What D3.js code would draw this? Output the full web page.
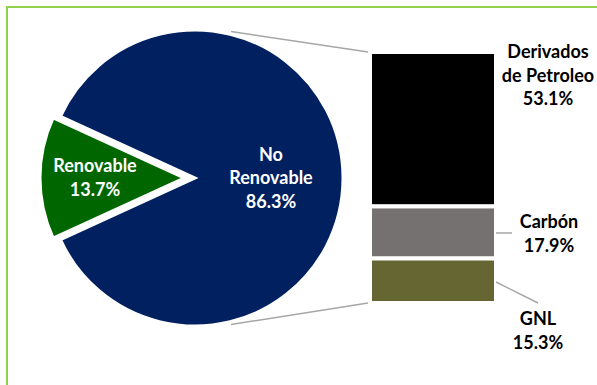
<!DOCTYPE html>
<html>
<head>
<meta charset="utf-8">
<script src="https://cdn.jsdelivr.net/npm/d3@7"></script>
<style>
  body { margin: 0; background: #fff; }
  svg { display: block; }
  text { font-family: Lato, 'Noto Sans', sans-serif; font-weight: 700; }
</style>
</head>
<body>
<div id="chart"></div>
<script>
// pie: main split
var pieCategories = ['Renovable', 'No Renovable']
var pieValues = [13.7, 86.3]
// bar: breakdown of "No Renovable"
var barCategories = ['Derivados de Petroleo', 'Carbón', 'GNL']
var barValues = [53.1, 17.9, 15.3]
var barLabelNames = [['Derivados', 'de Petroleo'], ['Carbón'], ['GNL']]
var pieLabelNames = [['Renovable'], ['No', 'Renovable']]

var width = 597
var height = 385

var svg = d3.select('#chart')
  .append('svg')
  .attr('width', width)
  .attr('height', height)

// green frame, only top and left edges fall inside the picture
svg.append('rect')
  .attr('x', 7)
  .attr('y', 7)
  .attr('width', 620)
  .attr('height', 420)
  .attr('fill', 'none')
  .attr('stroke', '#92d050')
  .attr('stroke-width', 2)

var pieColors = ['#006600', '#002060']
var barColors = ['#000000', '#767171', '#666633']

var cx = 195, cy = 178, radius = 148
var greenRadius = 144
var explode = 11

// green slice centred on the left side
var greenSpan = pieValues[0] / d3.sum(pieValues) * 2 * Math.PI
var start = 1.5 * Math.PI - greenSpan / 2
var pie = d3.pie().sort(null).value(function (d) { return d }).startAngle(start).endAngle(start + 2 * Math.PI)
var arcs = pie(pieValues)

var gPie = svg.append('g')

arcs.forEach(function (d, i) {
  var mid = (d.startAngle + d.endAngle) / 2
  var off = i === 0 ? explode : 0
  var r = i === 0 ? greenRadius : radius
  var ox = cx + off * Math.sin(mid)
  var oy = cy - off * Math.cos(mid)
  var arc = d3.arc().innerRadius(0).outerRadius(r)
  gPie.append('path')
    .attr('transform', 'translate(' + ox + ',' + oy + ')')
    .attr('d', arc(d))
    .attr('fill', pieColors[i])
    .attr('stroke', '#fff')
    .attr('stroke-width', 3)
    .attr('stroke-linejoin', 'miter')
})

// labels inside pie
var labelRadius = [89, 76]
arcs.forEach(function (d, i) {
  var mid = (d.startAngle + d.endAngle) / 2
  var off = i === 0 ? explode : 0
  var lx = cx + (off + labelRadius[i]) * Math.sin(mid)
  var ly = cy - (off + labelRadius[i]) * Math.cos(mid)
  var lines = pieLabelNames[i].concat([pieValues[i].toFixed(1) + '%'])
  var lh = 23.5
  var t = svg.append('text')
    .attr('text-anchor', 'middle')
    .attr('fill', '#fff')
    .style('font-size', '18px')
  lines.forEach(function (s, j) {
    t.append('tspan')
      .attr('x', lx)
      .attr('y', ly + (j - (lines.length - 1) / 2) * lh + 6)
      .text(s)
  })
})

// stacked bar
var barTotal = d3.sum(barValues)
var x = d3.scaleBand().domain([pieCategories[1]]).range([370, 496])
var y = d3.scaleLinear().domain([0, barTotal]).range([303, 52])

var stackData = []
var acc = 0
for (var i = barValues.length - 1; i >= 0; i--) {
  stackData[i] = { key: barCategories[i], y0: acc, y1: acc + barValues[i] }
  acc += barValues[i]
}

svg.selectAll('.seg')
  .data(stackData)
  .enter()
  .append('rect')
  .attr('class', 'seg')
  .attr('x', x(pieCategories[1]))
  .attr('width', x.bandwidth())
  .attr('y', function (d) { return y(d.y1) })
  .attr('height', function (d) { return y(d.y0) - y(d.y1) })
  .attr('fill', function (d, i) { return barColors[i] })
  .attr('stroke', '#fff')
  .attr('stroke-width', 4)

// series lines from pie to bar
var lineAngles = [14 * Math.PI / 180, 166 * Math.PI / 180]
var barEnds = [y(barTotal), y(0)]
var lineColor = '#a6a6a6'
lineAngles.forEach(function (a, i) {
  svg.append('line')
    .attr('x1', cx + (radius + 1) * Math.sin(a))
    .attr('y1', cy - (radius + 3) * Math.cos(a))
    .attr('x2', x(pieCategories[1]) - 2)
    .attr('y2', barEnds[i])
    .attr('stroke', lineColor)
    .attr('stroke-width', 1.5)
})

// bar labels
var barLabelPos = [
  { x: 548, y: 58 },
  { x: 549, y: 228 },
  { x: 538, y: 325 }
]
var leaders = [null, [496, 233, 512, 233], [496, 282, 538, 303]]

barValues.forEach(function (v, i) {
  var lines = barLabelNames[i].concat([v.toFixed(1) + '%'])
  var t = svg.append('text')
    .attr('text-anchor', 'middle')
    .attr('fill', '#000')
    .style('font-size', '18px')
  lines.forEach(function (s, j) {
    t.append('tspan')
      .attr('x', barLabelPos[i].x)
      .attr('y', barLabelPos[i].y + j * 23.7)
      .text(s)
  })
  if (leaders[i]) {
    svg.append('line')
      .attr('x1', leaders[i][0])
      .attr('y1', leaders[i][1])
      .attr('x2', leaders[i][2])
      .attr('y2', leaders[i][3])
      .attr('stroke', lineColor)
      .attr('stroke-width', 1.5)
  }
})
</script>
</body>
</html>
